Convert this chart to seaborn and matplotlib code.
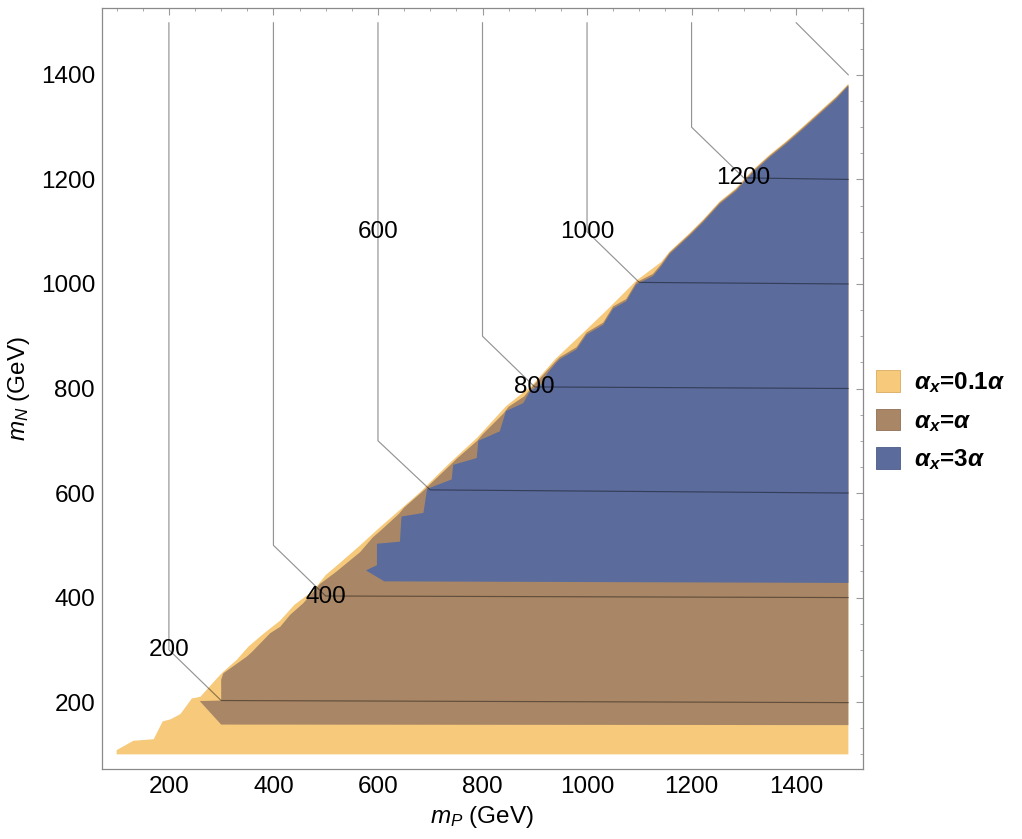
import matplotlib
matplotlib.use("Agg")
import matplotlib.pyplot as plt
from matplotlib.patches import Patch
from matplotlib.ticker import MultipleLocator
import seaborn as sns
import pandas as pd

# ---------------- data ----------------
# region alpha_x = 0.1 alpha (yellow): upper boundary, left to right
YEL_X = [100, 100, 132, 171, 188, 203, 222, 244, 260, 298, 304, 330, 352, 380, 413, 440, 476, 500,
         527, 566, 600, 640, 680, 699, 740, 790, 845, 895, 940, 990, 1040, 1094, 1142, 1158, 1196,
         1222, 1254, 1285, 1317, 1349, 1381, 1413, 1445, 1477, 1500, 1500]
YEL_Y = [100, 108, 126, 129, 163, 167, 177, 207, 210, 252, 258, 281, 306, 330, 356, 386, 413, 443,
         466, 500, 531, 566, 601, 620, 660, 706, 766, 806, 857, 904, 952, 1006, 1042, 1062, 1097,
         1123, 1158, 1183, 1218, 1247, 1273, 1301, 1330, 1359, 1383, 100]

# region alpha_x = alpha (brown): closed outline
BRN_X = [259, 300, 300, 304, 349, 359, 394, 413, 432, 457, 489, 521, 566, 590, 605, 640, 650, 690,
         700, 740, 750, 790, 800, 840, 850, 880, 895, 941, 948, 980, 999, 1031, 1050, 1075, 1094,
         1126, 1142, 1158, 1196, 1222, 1254, 1285, 1317, 1349, 1381, 1413, 1445, 1477, 1500, 1500, 300]
BRN_Y = [202, 203, 243, 255, 287, 296, 332, 344, 367, 389, 426, 450, 487, 515, 528, 560, 572, 607,
         617, 655, 665, 700, 712, 752, 765, 785, 803, 853, 860, 879, 907, 926, 957, 971, 1003,
         1019, 1038, 1060, 1095, 1121, 1156, 1181, 1216, 1245, 1271, 1299, 1328, 1357, 1381, 156, 157]

# region alpha_x = 3 alpha (blue): closed outline
BLU_X = [577, 598, 598, 642, 645, 687, 694, 741, 744, 789, 792, 833, 845, 878, 891, 912, 925, 941,
         948, 980, 999, 1031, 1050, 1075, 1094, 1126, 1142, 1158, 1196, 1222, 1254, 1285, 1317,
         1349, 1381, 1413, 1445, 1477, 1500, 1500, 612]
BLU_Y = [452, 462, 503, 507, 555, 562, 608, 626, 654, 667, 700, 718, 757, 772, 795, 808, 830, 849,
         856, 875, 903, 922, 953, 967, 999, 1015, 1034, 1057, 1092, 1118, 1153, 1178, 1213,
         1242, 1268, 1296, 1325, 1354, 1379, 428, 431]

# contour lines (level -> path)
CONTOUR_LEVELS = [200, 400, 600, 800, 1000, 1200, 1400]
CONTOUR_X = [[200, 200, 300, 1500], [400, 400, 500, 1500], [600, 600, 700, 1500],
             [800, 800, 900, 1500], [1000, 1000, 1100, 1500], [1200, 1200, 1300, 1500],
             [1400, 1500]]
CONTOUR_Y = [[1500, 300, 203, 199], [1500, 500, 403, 400], [1500, 700, 606, 600],
             [1500, 900, 803, 800], [1500, 1100, 1003, 1000], [1500, 1300, 1203, 1200],
             [1500, 1400]]

# contour labels
LABEL_TEXT = ["200", "400", "600", "800", "1000", "1200"]
LABEL_X = [200, 500, 600, 900, 1000, 1298]
LABEL_Y = [300, 401, 1100, 803, 1100, 1203]

LEGEND_LABELS = [r"$\mathbf{\alpha_x}$=0.1$\mathbf{\alpha}$",
                 r"$\mathbf{\alpha_x}$=$\mathbf{\alpha}$",
                 r"$\mathbf{\alpha_x}$=3$\mathbf{\alpha}$"]
COLORS = ["#F6C97B", "#A98766", "#5B6C9C"]
EDGE_COLORS = ["#d9ab60", "#8e6f52", "#4a5a88"]

X_TICKS = [200, 400, 600, 800, 1000, 1200, 1400]
Y_TICKS = [200, 400, 600, 800, 1000, 1200, 1400]

# ---------------- style ----------------
sns.set_theme(style="white")
plt.rcParams["font.family"] = ["Liberation Sans", "DejaVu Sans"]
plt.rcParams["mathtext.fontset"] = "custom"
plt.rcParams["mathtext.rm"] = "Liberation Sans"
plt.rcParams["mathtext.it"] = "Liberation Sans:italic"
plt.rcParams["mathtext.bf"] = "Liberation Sans:bold:italic"
plt.rcParams["text.color"] = "black"
plt.rcParams["axes.labelcolor"] = "black"

FS = 17.5

fig = plt.figure(figsize=(10.22, 8.39), dpi=100)
ax = fig.add_axes([102 / 1022, 70 / 839, 761 / 1022, 761 / 839])

ax.fill(YEL_X, YEL_Y, color=COLORS[0], lw=0, zorder=1)
ax.fill(BRN_X, BRN_Y, color=COLORS[1], lw=0, zorder=2)
ax.fill(BLU_X, BLU_Y, color=COLORS[2], lw=0, zorder=3)

for lev, xs, ys in zip(CONTOUR_LEVELS, CONTOUR_X, CONTOUR_Y):
    df = pd.DataFrame({"x": xs, "y": ys})
    sns.lineplot(data=df, x="x", y="y", sort=False, estimator=None, ax=ax,
                 color="black", alpha=0.42, lw=0.85, zorder=4)

for t, lx, ly in zip(LABEL_TEXT, LABEL_X, LABEL_Y):
    ax.text(lx, ly, t, fontsize=FS, ha="center", va="center", color="black", zorder=5)

ax.set_xlim(72, 1528)
ax.set_ylim(72, 1528)
ax.set_xticks(X_TICKS)
ax.set_yticks(Y_TICKS)
ax.xaxis.set_minor_locator(MultipleLocator(50))
ax.yaxis.set_minor_locator(MultipleLocator(50))
ax.tick_params(which="both", direction="in", top=True, right=True, color="#9a9a9a",
               labelsize=FS, labelcolor="black")
ax.tick_params(which="major", length=5, width=0.8, pad=5)
ax.tick_params(which="minor", length=2.5, width=0.6)
for s in ax.spines.values():
    s.set_color("#8a8a8a")
    s.set_linewidth(0.9)

ax.set_xlabel(r"$m_P$ (GeV)", fontsize=FS, labelpad=4)
ax.set_ylabel(r"$m_N$ (GeV)", fontsize=FS, labelpad=6)

handles = [Patch(facecolor=c, edgecolor=e, lw=0.6) for c, e in zip(COLORS, EDGE_COLORS)]
fig.legend(handles, LEGEND_LABELS, loc="center left", bbox_to_anchor=(0.857, 0.498),
           bbox_transform=fig.transFigure, frameon=False, borderpad=0, borderaxespad=0,
           handlelength=1.0, handleheight=1.0, handletextpad=0.55, labelspacing=0.55,
           prop={"size": FS, "weight": "bold"})

fig.savefig("out.png", dpi=100)
